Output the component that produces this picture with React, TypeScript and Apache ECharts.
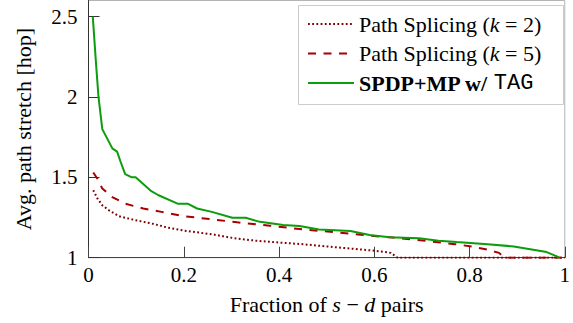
import React, { useEffect, useRef } from "react";
import * as echarts from "echarts";

const xTickValues = [0, 0.2, 0.4, 0.6, 0.8, 1];
const yTickValues = [1, 1.5, 2, 2.5];

const seriesNames = ["Path Splicing (k = 2)", "Path Splicing (k = 5)", "SPDP+MP w/ TAG"];
const legendRich = [
  "{r|Path Splicing (}{i|k}{r| = 2)}",
  "{r|Path Splicing (}{i|k}{r| = 5)}",
  "{b|SPDP+MP w/}{r| }{m|TAG}",
];

const splicingK2: [number, number][] = [
  [0.01, 1.42], [0.019, 1.367], [0.029, 1.326], [0.043, 1.295], [0.064, 1.258],
  [0.098, 1.234], [0.132, 1.213], [0.167, 1.187], [0.201, 1.168], [0.259, 1.146],
  [0.306, 1.121], [0.354, 1.105], [0.402, 1.094], [0.45, 1.084], [0.515, 1.066],
  [0.577, 1.05], [0.611, 1.04], [0.635, 1.03], [0.649, 1.0], [1.0, 1.0],
];

const splicingK5: [number, number][] = [
  [0.01, 1.53], [0.019, 1.49], [0.029, 1.43], [0.05, 1.377], [0.077, 1.336],
  [0.115, 1.306], [0.153, 1.285], [0.201, 1.258], [0.256, 1.24], [0.312, 1.22],
  [0.381, 1.199], [0.45, 1.176], [0.522, 1.158], [0.577, 1.141], [0.639, 1.125],
  [0.708, 1.105], [0.77, 1.084], [0.804, 1.07], [0.838, 1.05], [0.862, 1.03],
  [0.873, 1.0], [1.0, 1.0],
];

const spdpTag: [number, number][] = [
  [0.009, 2.5], [0.0155, 2.22], [0.021, 2.0], [0.029, 1.8], [0.05, 1.68],
  [0.06, 1.66], [0.067, 1.6], [0.077, 1.52], [0.091, 1.5], [0.099, 1.5],
  [0.132, 1.414], [0.146, 1.39], [0.187, 1.336], [0.208, 1.336], [0.228, 1.306],
  [0.259, 1.285], [0.302, 1.248], [0.33, 1.248], [0.36, 1.223], [0.409, 1.203],
  [0.443, 1.197], [0.484, 1.176], [0.55, 1.166], [0.59, 1.141], [0.632, 1.127],
  [0.694, 1.121], [0.735, 1.105], [0.773, 1.097], [0.838, 1.084], [0.893, 1.07],
  [0.962, 1.035], [0.976, 1.018], [0.989, 1.0],
];

const SERIF = "Liberation Serif";

export default function App() {
  const ref = useRef<HTMLDivElement>(null);
  useEffect(() => {
    if (!ref.current) return;
    const chart = echarts.init(ref.current, null, { renderer: "svg" });
    const LFS = 22;
    const legendStyles = {
      r: { fontFamily: SERIF, fontSize: LFS, lineHeight: 22, color: "#000" },
      i: { fontFamily: SERIF, fontStyle: "italic", fontSize: LFS, lineHeight: 22, color: "#000" },
      b: { fontFamily: SERIF, fontWeight: "bold", fontSize: LFS, lineHeight: 22, color: "#000" },
      m: { fontFamily: "Liberation Mono", fontSize: 22, lineHeight: 22, color: "#000" },
    };
    const nameStyles = {
      r: { fontFamily: SERIF, fontSize: 22, color: "#000" },
      i: { fontFamily: SERIF, fontStyle: "italic", fontSize: 22, color: "#000" },
    };
    chart.setOption({
      animation: false,
      textStyle: { fontFamily: SERIF, color: "#000" },
      grid: {
        left: 88.5,
        right: 0.5,
        top: 0.5,
        bottom: 65.3,
        show: true,
        borderColor: "#b4b4b4",
        borderWidth: 1,
      },
      graphic: [
        {
          type: "rect",
          shape: { x: 298.5, y: 5.5, width: 265, height: 99 },
          style: { fill: "#fff", stroke: "#cccccc", lineWidth: 1 },
          z: 1,
        },
      ],
      legend: {
        orient: "vertical",
        left: 307,
        top: 13,
        padding: 0,
        itemWidth: 46,
        itemHeight: 14,
        itemGap: 7.5,
        z: 10,
        data: seriesNames,
        itemStyle: { opacity: 0 },
        formatter: (name: string) => legendRich[seriesNames.indexOf(name)],
        textStyle: {
          fontFamily: SERIF,
          fontSize: LFS,
          lineHeight: 22,
          color: "#000",
          rich: legendStyles,
        },
      },
      xAxis: {
        type: "value",
        min: 0,
        max: 1,
        interval: 0.2,
        name: "{r|Fraction of }{i|s}{r| − }{i|d}{r| pairs}",
        nameLocation: "middle",
        nameGap: 36,
        nameTextStyle: {
          fontFamily: SERIF,
          fontSize: 22,
          color: "#000",
          rich: nameStyles,
        },
        axisLine: { show: true, lineStyle: { color: "#444", width: 1 } },
        axisTick: { show: true, inside: true, length: 11, lineStyle: { color: "#444" }, customValues: xTickValues },
        axisLabel: { fontFamily: SERIF, fontSize: 21, color: "#000", margin: 7, customValues: xTickValues },
        splitLine: { show: false },
      },
      yAxis: {
        type: "value",
        min: 1,
        max: 2.6,
        interval: 0.5,
        name: "Avg. path stretch [hop]",
        nameLocation: "middle",
        nameGap: 54,
        nameTextStyle: { fontFamily: SERIF, fontSize: 22, color: "#000" },
        axisLine: { show: true, lineStyle: { color: "#333", width: 1 } },
        axisTick: { show: true, inside: true, length: 11, lineStyle: { color: "#333" }, customValues: yTickValues },
        axisLabel: { fontFamily: SERIF, fontSize: 21, color: "#000", margin: 11, customValues: yTickValues },
        splitLine: { show: false },
      },
      series: [
        {
          name: seriesNames[0],
          type: "line",
          data: splicingK2,
          symbol: "none",
          lineStyle: { color: "#800000", width: 2, type: [1.8, 2.4] },
          itemStyle: { color: "#800000" },
          z: 3,
        },
        {
          name: seriesNames[1],
          type: "line",
          data: splicingK5,
          symbol: "none",
          lineStyle: { color: "#a80000", width: 2, type: [8, 7.5] },
          itemStyle: { color: "#a80000" },
          z: 4,
        },
        {
          name: seriesNames[2],
          type: "line",
          data: spdpTag,
          symbol: "none",
          lineStyle: { color: "#0c9c0c", width: 2 },
          itemStyle: { color: "#0c9c0c" },
          z: 5,
        },
      ],
    });
    return () => chart.dispose();
  }, []);
  return (
    <div
      ref={ref}
      style={{ position: "absolute", left: 0, top: 0, width: 573, height: 323 }}
    />
  );
}
